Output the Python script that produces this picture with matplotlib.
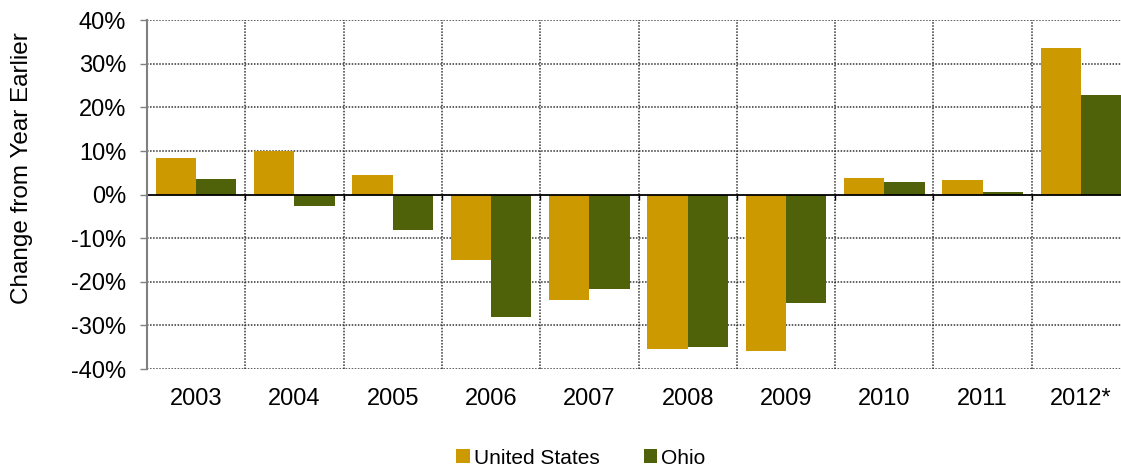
import numpy as np
import matplotlib
matplotlib.use("Agg")
import matplotlib.pyplot as plt
from matplotlib.patches import Patch
from matplotlib.ticker import FuncFormatter

years = ["2003", "2004", "2005", "2006", "2007", "2008", "2009", "2010", "2011", "2012*"]
us_values = [8.3, 9.9, 4.4, -14.9, -24.1, -35.5, -35.9, 3.9, 3.4, 33.6]
ohio_values = [3.7, -2.7, -8.0, -28.1, -21.6, -35.0, -24.8, 2.9, 0.6, 22.9]
series_names = ["United States", "Ohio"]
colors = ["#CC9900", "#4F6109"]
y_ticks = [-40, -30, -20, -10, 0, 10, 20, 30, 40]

plt.rcParams['font.family'] = ['Liberation Sans', 'DejaVu Sans']

W, H = 1121, 471
fig = plt.figure(figsize=(W / 100, H / 100), dpi=100)
left, right, top, bottom = 147, 1130, 20.3, 369
ax = fig.add_axes([left / W, 1 - bottom / H, (right - left) / W, (bottom - top) / H])

x = np.arange(len(years))
bw = 0.41
ax.bar(x - bw / 2, us_values, bw, color=colors[0], zorder=3)
ax.bar(x + bw / 2, ohio_values, bw, color=colors[1], zorder=3)

ax.set_xlim(-0.5, len(years) - 0.5)
ax.set_ylim(-40, 40)

grid_kw = dict(color="#333333", linestyle=(0, (1, 1)), linewidth=1.1, zorder=1)
for yv in y_ticks:
    if yv != 0:
        ax.axhline(yv, **grid_kw)
for b in np.arange(0.5, len(years), 1.0):
    ax.axvline(b, **grid_kw)
ax.axhline(0, color="black", linewidth=1.3, zorder=4)
ax.vlines(np.arange(0.5, len(years) - 1, 1.0), -1.2, 0, color="black", linewidth=1.0, zorder=4)

for s in ["top", "right", "bottom"]:
    ax.spines[s].set_visible(False)
ax.spines["left"].set_color("#808080")
ax.spines["left"].set_linewidth(1.5)
ax.spines["left"].set_zorder(5)

ax.set_yticks(y_ticks)
ax.yaxis.set_major_formatter(FuncFormatter(lambda v, p: f"{int(v)}%"))
ax.tick_params(axis="y", length=5, width=1, color="#808080", pad=10, labelsize=17)
ax.set_xticks(x)
ax.set_xticklabels(years)
ax.tick_params(axis="x", length=0, pad=14, labelsize=17)

fig.text(22.5 / W, 1 - 168.5 / H, "Change from Year Earlier", rotation=90,
         ha="center", va="center", fontsize=17.5)

handles = [Patch(facecolor=c, edgecolor="none") for c in colors]
fig.legend(handles, series_names, loc="center", bbox_to_anchor=(581 / W, 1 - 458 / H),
           ncol=2, frameon=False, fontsize=15, handlelength=0.65, handleheight=0.65,
           handletextpad=0.2, columnspacing=2.1, borderpad=0)

fig.savefig("out.png", dpi=100)
